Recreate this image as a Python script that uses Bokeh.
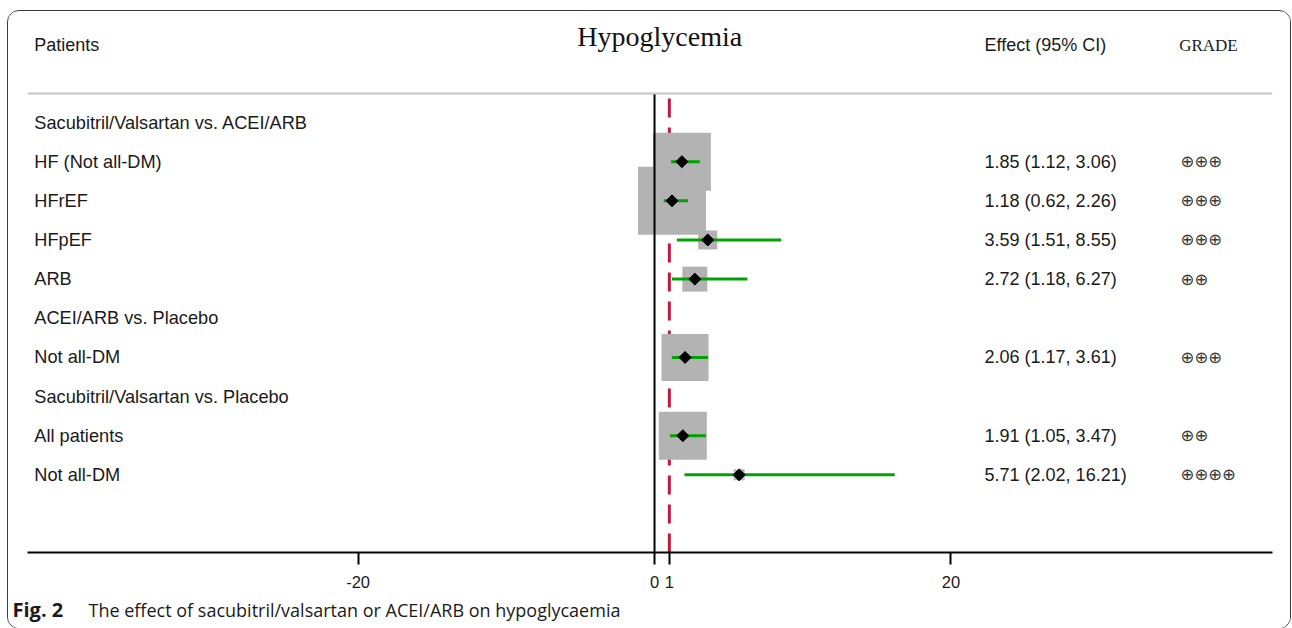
import numpy as np
from bokeh.plotting import figure
from bokeh.layouts import column
from bokeh.models import Range1d, FixedTicker, Span
from bokeh.core.properties import value
from bokeh.embed import file_html
from bokeh.resources import INLINE

# ---------------- data ----------------
row_labels = ["Sacubitril/Valsartan vs. ACEI/ARB", "HF (Not all-DM)", "HFrEF", "HFpEF", "ARB",
              "ACEI/ARB vs. Placebo", "Not all-DM", "Sacubitril/Valsartan vs. Placebo",
              "All patients", "Not all-DM"]
est_rows = [1, 2, 3, 4, 6, 8, 9]
estimates = [1.85, 1.18, 3.59, 2.72, 2.06, 1.91, 5.71]
lower = [1.12, 0.62, 1.51, 1.18, 1.17, 1.05, 2.02]
upper = [3.06, 2.26, 8.55, 6.27, 3.61, 3.47, 16.21]
weights = [5.8, 6.8, 1.9, 2.5, 4.7, 4.8, 1.1]
grades = ["\u2295\u2295\u2295", "\u2295\u2295\u2295", "\u2295\u2295\u2295", "\u2295\u2295",
          "\u2295\u2295\u2295", "\u2295\u2295", "\u2295\u2295\u2295\u2295"]
x_ticks = [-20, 0, 1, 20]
null_value = 1
title_text = "Hypoglycemia"
caption_bold = "Fig. 2"
caption_text = "The effect of sacubitril/valsartan or ACEI/ARB on hypoglycaemia"

effect_labels = [f"{e:.2f} ({l:.2f}, {u:.2f})" for e, l, u in zip(estimates, lower, upper)]

# ---------------- layout constants ----------------
X0, X1 = -42.31, 41.70          # frame x-range
Y_BOT, Y_TOP = 10.983, -2.580    # frame y-range (rows, reversed)
COL_LABEL = -41.85
COL_EFFECT = 22.27
COL_GRADE = 35.50
ROW_HEAD = -1.967
ROW_TITLE = -2.2
ROW_RULE = -0.741
W = 1282
MAIN_H = 583
CAP_H = 34

p = figure(width=W, height=MAIN_H, output_backend="svg", toolbar_location=None,
           title=None, x_range=Range1d(X0, X1), y_range=Range1d(Y_BOT, Y_TOP),
           y_axis_location=None, min_border_left=19, min_border_right=18,
           min_border_top=10, min_border_bottom=42)
p.outline_line_color = None
p.xgrid.visible = False
p.ygrid.visible = False
p.background_fill_color = "white"
p.border_fill_color = "white"

ax = p.xaxis[0]
ax.ticker = FixedTicker(ticks=x_ticks)
ax.major_label_overrides = {t: str(t) for t in x_ticks}
ax.axis_line_width = 2
ax.axis_line_color = "black"
ax.major_tick_line_width = 2
ax.major_tick_line_color = "black"
ax.major_tick_out = 12
ax.major_tick_in = 0
ax.minor_tick_out = 0
ax.minor_tick_in = 0
ax.major_label_standoff = 11
ax.major_label_text_font = "Liberation Sans"
ax.major_label_text_font_size = "16.5px"
ax.major_label_text_color = "#1a1a1a"

# header rule
p.add_layout(Span(location=ROW_RULE, dimension="width", line_color="#c4c4c4", line_width=2))

# null line (dashed red)
p.segment(x0=[null_value], y0=[ROW_RULE], x1=[null_value], y1=[Y_BOT],
          line_color="#c4173f", line_width=3, line_dash="19 10", line_dash_offset=24)

# weight boxes
p.scatter(x=estimates, y=est_rows, marker="square", size=[w * 10 for w in weights],
          fill_color="#b3b3b3", line_color=None)

# zero line
p.segment(x0=[0], y0=[ROW_RULE], x1=[0], y1=[Y_BOT], line_color="black", line_width=2)

# confidence intervals
p.segment(x0=lower, y0=est_rows, x1=upper, y1=est_rows, line_color="#00a400", line_width=3)

# point estimates
p.scatter(x=estimates, y=est_rows, marker="square", angle=np.pi / 4, size=8.5,
          fill_color="black", line_color="black")

sans = value("Liberation Sans")
serif = value("Liberation Serif")

p.text(x=[COL_LABEL] * len(row_labels), y=list(range(len(row_labels))), text=row_labels,
       text_font=sans, text_font_size="18.2px", text_baseline="middle", text_align="left",
       text_color="#1a1a1a")
p.text(x=[COL_EFFECT] * len(effect_labels), y=est_rows, text=effect_labels,
       text_font=sans, text_font_size="18px", text_baseline="middle", text_align="left",
       text_color="#1a1a1a")
p.text(x=[COL_GRADE] * len(grades), y=est_rows, text=grades,
       text_font=value("DejaVu Sans"), text_font_size="16.5px", text_baseline="middle",
       text_align="left", text_color="#3a3a3a")

# headers
p.text(x=[COL_LABEL], y=[ROW_HEAD], text=["Patients"], text_font=sans, text_font_size="18px",
       text_baseline="middle", text_align="left", text_color="#1a1a1a")
p.text(x=[COL_EFFECT], y=[ROW_HEAD], text=["Effect (95% CI)"], text_font=sans,
       text_font_size="18px", text_baseline="middle", text_align="left", text_color="#1a1a1a")
p.text(x=[COL_GRADE - 0.1], y=[ROW_HEAD], text=["GRADE"], text_font=serif,
       text_font_size="17px", text_baseline="middle", text_align="left", text_color="#1a1a1a")
p.text(x=[0.35], y=[ROW_TITLE], text=[title_text], text_font=serif, text_font_size="28px",
       text_baseline="middle", text_align="center", text_color="#111111")

# caption strip (its own small frame so the text is not clipped)
cap = figure(width=W, height=CAP_H, output_backend="svg", toolbar_location=None, title=None,
             x_range=Range1d(0, W), y_range=Range1d(CAP_H, 0),
             x_axis_location=None, y_axis_location=None,
             min_border=0, min_border_left=0, min_border_right=0,
             min_border_top=0, min_border_bottom=0)
cap.frame_align = False
cap.outline_line_color = None
cap.xgrid.visible = False
cap.ygrid.visible = False
cap.text(x=[4], y=[15], text=[caption_bold], text_font=value("Open Sans"),
         text_font_style="bold", text_font_size="20px", text_baseline="middle",
         text_align="left", text_color="#1a1a1a")
cap.text(x=[80], y=[15], text=[caption_text], text_font=value("Open Sans"),
         text_font_size="18px", text_baseline="middle", text_align="left",
         text_color="#1a1a1a")

page = column(p, cap, spacing=0)
page.margin = (10, 3, 1, 7)
page.styles = {"border": "1px solid #3c3c3c", "border-radius": "12px", "overflow": "hidden"}

open("out.html", "w").write(file_html(page, INLINE))
